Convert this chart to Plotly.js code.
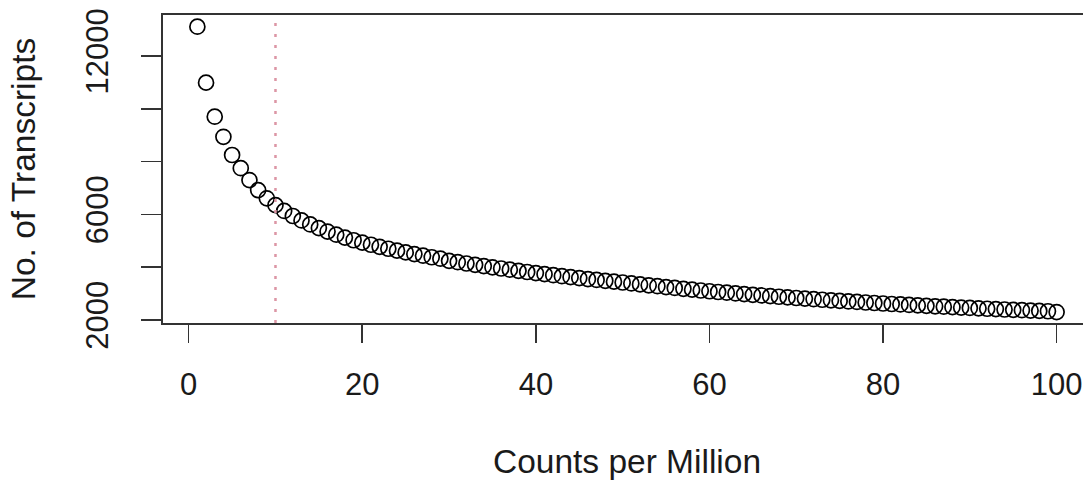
<!DOCTYPE html>
<html>
<head>
<meta charset="utf-8">
<script src="https://cdn.plot.ly/plotly-3.0.1.min.js"></script>
<style>
html,body{margin:0;padding:0;overflow:hidden;background:#fff;}
#chart{width:1100px;height:480px;}
</style>
</head>
<body>
<div id="chart"></div>
<script>
// Counts-per-million threshold (1..100)
const cpm = [
  1, 2, 3, 4, 5, 6, 7, 8, 9, 10,
  11, 12, 13, 14, 15, 16, 17, 18, 19, 20,
  21, 22, 23, 24, 25, 26, 27, 28, 29, 30,
  31, 32, 33, 34, 35, 36, 37, 38, 39, 40,
  41, 42, 43, 44, 45, 46, 47, 48, 49, 50,
  51, 52, 53, 54, 55, 56, 57, 58, 59, 60,
  61, 62, 63, 64, 65, 66, 67, 68, 69, 70,
  71, 72, 73, 74, 75, 76, 77, 78, 79, 80,
  81, 82, 83, 84, 85, 86, 87, 88, 89, 90,
  91, 92, 93, 94, 95, 96, 97, 98, 99, 100
];

// Number of transcripts passing each threshold
const transcripts = [
  13110, 10990, 9700, 8940, 8250, 7750, 7300, 6920, 6610, 6350,
  6130, 5940, 5770, 5620, 5480, 5350, 5230, 5120, 5020, 4930,
  4850, 4772, 4698, 4627, 4560, 4496, 4435, 4377, 4322, 4240,
  4190, 4140, 4091, 4043, 3996, 3950, 3905, 3861, 3818, 3776,
  3736, 3697, 3659, 3622, 3586, 3551, 3517, 3484, 3452, 3421,
  3385, 3349, 3314, 3280, 3246, 3213, 3181, 3149, 3118, 3088,
  3060, 3033, 3006, 2980, 2954, 2929, 2904, 2880, 2856, 2833,
  2810, 2788, 2766, 2745, 2724, 2703, 2683, 2663, 2644, 2625,
  2606, 2588, 2570, 2553, 2536, 2519, 2503, 2487, 2471, 2456,
  2441, 2426, 2412, 2398, 2384, 2370, 2357, 2344, 2331, 2300
];

const xTicks = [0, 20, 40, 60, 80, 100];
const xTickText = ['0', '20', '40', '60', '80', '100'];
const yTicks = [2000, 4000, 6000, 8000, 10000, 12000];
const yTickText = ['2000', '', '6000', '', '', '12000'];
const cutoff = 10;

const font = 'Liberation Sans, Arial, Helvetica, sans-serif';

const trace = {
  x: cpm,
  y: transcripts,
  type: 'scatter',
  mode: 'markers',
  marker: {symbol: 'circle-open', size: 15, color: '#000', line: {width: 1.7, color: '#111'}},
  hoverinfo: 'x+y'
};

const layout = {
  width: 1100,
  height: 480,
  margin: {l: 163, r: 9, t: 15, b: 157},
  paper_bgcolor: '#fff',
  plot_bgcolor: '#fff',
  showlegend: false,
  font: {family: font, size: 31, color: '#1a1a1a'},
  xaxis: {
    range: [-2.96, 103.96],
    tickvals: xTicks,
    ticktext: xTickText,
    ticks: 'outside',
    ticklen: 18,
    tickwidth: 1.6,
    tickcolor: '#333',
    showline: true,
    mirror: true,
    linecolor: '#333',
    linewidth: 2,
    showgrid: false,
    zeroline: false,
    tickfont: {family: font, size: 31, color: '#1a1a1a'},
    ticklabelstandoff: 15,
    title: {text: 'Counts per Million', font: {family: font, size: 33.5, color: '#1a1a1a'}, standoff: 53}
  },
  yaxis: {
    range: [1886, 13553],
    tickvals: yTicks,
    ticktext: yTickText,
    tickangle: -90,
    ticks: 'outside',
    ticklen: 20,
    tickwidth: 1.6,
    tickcolor: '#333',
    showline: true,
    mirror: true,
    linecolor: '#333',
    linewidth: 2,
    showgrid: false,
    zeroline: false,
    tickfont: {family: font, size: 31, color: '#1a1a1a'},
    ticklabelstandoff: 21,
    title: {text: 'No. of Transcripts', font: {family: font, size: 33.5, color: '#1a1a1a'}, standoff: 34}
  },
  shapes: [{
    type: 'line', xref: 'x', yref: 'paper',
    x0: cutoff, x1: cutoff, y0: 0, y1: 1,
    line: {color: 'rgb(220,150,165)', width: 2.5, dash: '3px,8px'}
  }]
};

Plotly.newPlot('chart', [trace], layout, {displayModeBar: false, staticPlot: true});
</script>
</body>
</html>
